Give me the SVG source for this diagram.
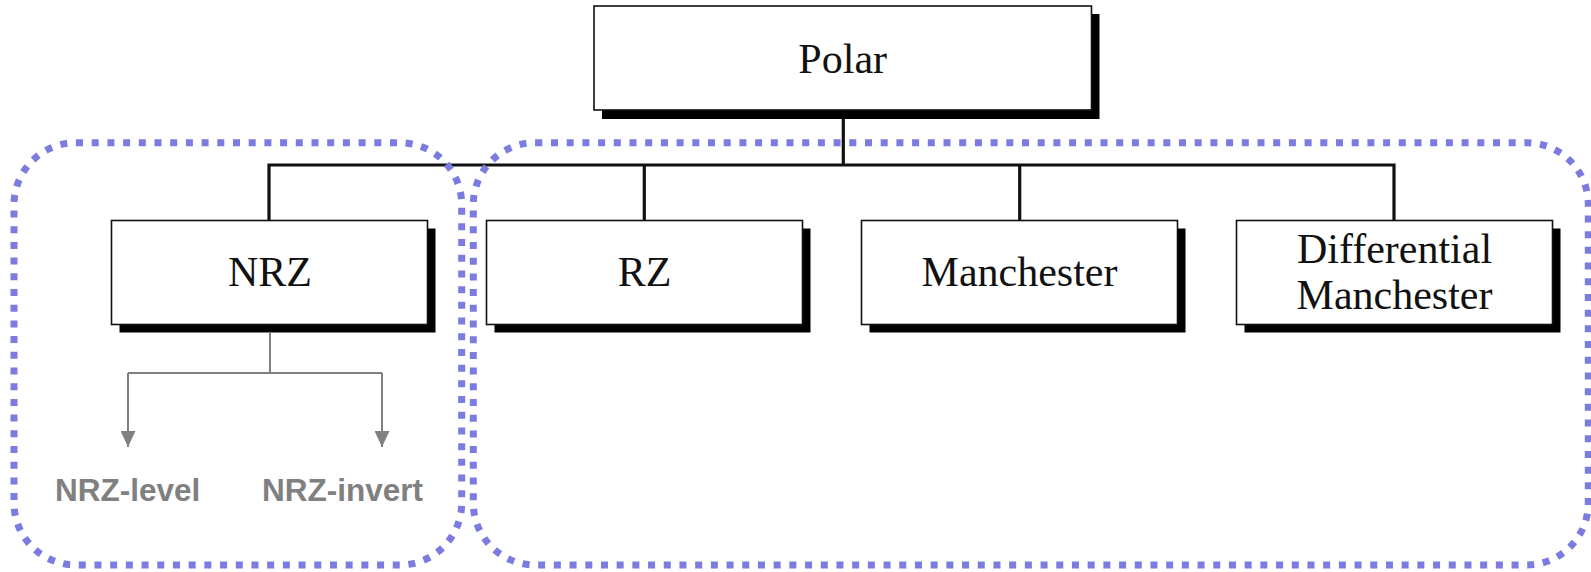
<svg xmlns="http://www.w3.org/2000/svg" width="1591" height="572" viewBox="0 0 1591 572">
  <style>
    .shadow { fill: #000; }
    .box { fill: #fff; stroke: #111; stroke-width: 1.6; }
    .label { font-family: "Liberation Serif", "Times New Roman", serif; font-size: 42px; fill: #111; text-anchor: middle; }
    .sub { font-family: "Liberation Sans", Arial, sans-serif; font-weight: bold; font-size: 31.5px; fill: #808080; text-anchor: middle; }
    .tree { fill: none; stroke: #111; stroke-width: 3.2; }
    .thin { fill: none; stroke: #808080; stroke-width: 2; }
    .group { fill: none; stroke: #7B7BE0; stroke-width: 7; stroke-dasharray: 7 8.7; }
  </style>
  <defs>
    <marker id="arrow" viewBox="0 0 16 15" refX="16" refY="7.5" markerWidth="16" markerHeight="15" markerUnits="userSpaceOnUse" orient="auto">
      <path d="M0,0 L16,7.5 L0,15 Z" fill="#808080"/>
    </marker>
  </defs>

  <!-- connectors -->
  <g id="connectors">
    <path class="tree" d="M843.3,110 V165 M269,220 V165 H1394 V220 M644.3,165 V220 M1019.7,165 V220"/>
    <path class="thin" d="M270,333 V373 M128,373 H382"/>
    <path class="thin" d="M128,373 V447" marker-end="url(#arrow)"/>
    <path class="thin" d="M382,373 V447" marker-end="url(#arrow)"/>
  </g>

  <g id="polar">
    <rect class="shadow" x="602" y="14" width="497.5" height="105"/>
    <rect class="box" x="594" y="6" width="497.5" height="104"/>
    <text class="label" x="842.7" y="72.7">Polar</text>
  </g>

  <g id="nrz">
    <rect class="shadow" x="119.5" y="228.5" width="316" height="104"/>
    <rect class="box" x="111.5" y="220.5" width="316" height="104"/>
    <text class="label" x="270" y="286">NRZ</text>
  </g>

  <g id="rz">
    <rect class="shadow" x="494.5" y="228.5" width="316" height="104"/>
    <rect class="box" x="486.5" y="220.5" width="316" height="104"/>
    <text class="label" x="644.5" y="286">RZ</text>
  </g>

  <g id="manchester">
    <rect class="shadow" x="869.5" y="228.5" width="316" height="104"/>
    <rect class="box" x="861.5" y="220.5" width="316" height="104"/>
    <text class="label" x="1019.5" y="286">Manchester</text>
  </g>

  <g id="diff-manchester">
    <rect class="shadow" x="1244.5" y="228.5" width="316" height="104"/>
    <rect class="box" x="1236.5" y="220.5" width="316" height="104"/>
    <text class="label" x="1394.5" y="262.5">Differential</text>
    <text class="label" x="1394.5" y="309">Manchester</text>
  </g>

  <g id="nrz-level">
    <text class="sub" x="127.7" y="501">NRZ-level</text>
  </g>
  <g id="nrz-invert">
    <text class="sub" x="342.5" y="501">NRZ-invert</text>
  </g>

  <!-- dotted grouping outlines -->
  <g id="groups">
    <rect class="group" x="14" y="142.7" width="447.7" height="422.3" rx="62" ry="62"/>
    <rect class="group" x="473.3" y="142.7" width="1115" height="422.3" rx="62" ry="62"/>
  </g>
</svg>
